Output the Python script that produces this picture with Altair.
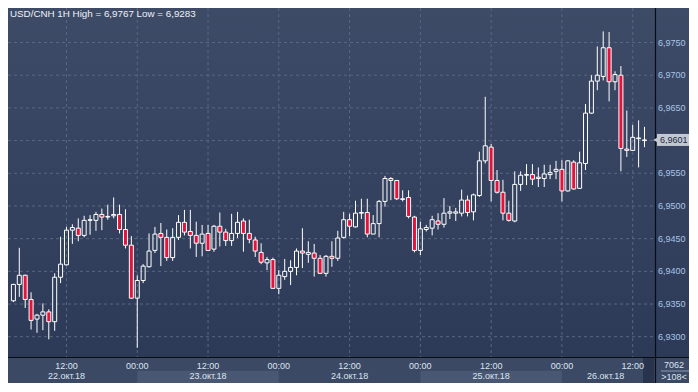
import altair as alt
import pandas as pd
import numpy as np

# ---------------- data ----------------
opens = [6.9355, 6.9380, 6.9394, 6.9357, 6.9327, 6.9333, 6.9338, 6.9323, 6.9391, 6.9410,
         6.9463, 6.9466, 6.9455, 6.9478, 6.9478, 6.9487, 6.9484, 6.9485, 6.9487, 6.9464,
         6.9440, 6.9359, 6.9386, 6.9407, 6.9432, 6.9458, 6.9452, 6.9421, 6.9452, 6.9475,
         6.9461, 6.9455, 6.9443, 6.9458, 6.9434, 6.9469, 6.9460, 6.9447, 6.9458, 6.9477,
         6.9458, 6.9448, 6.9429, 6.9413, 6.9418, 6.9374, 6.9392, 6.9400, 6.9406, 6.9431,
         6.9426, 6.9428, 6.9420, 6.9397, 6.9423, 6.9420, 6.9452, 6.9479, 6.9468, 6.9489,
         6.9490, 6.9457, 6.9473, 6.9507, 6.9542, 6.9539, 6.9511, 6.9513, 6.9483, 6.9432,
         6.9464, 6.9466, 6.9477, 6.9472, 6.9489, 6.9489, 6.9489, 6.9509, 6.9491, 6.9516,
         6.9569, 6.9590, 6.9539, 6.9521, 6.9489, 6.9477, 6.9533, 6.9547, 6.9548, 6.9542,
         6.9542, 6.9548, 6.9553, 6.9556, 6.9523, 6.9567, 6.9527, 6.9565, 6.9642, 6.9691,
         6.9698, 6.9742, 6.9690, 6.9700, 6.9587, 6.9585, 6.9603, 6.9600]
highs = [6.9381, 6.9436, 6.9395, 6.9368, 6.9335, 6.9351, 6.9342, 6.9397, 6.9453, 6.9468,
         6.9472, 6.9481, 6.9485, 6.9486, 6.9491, 6.9496, 6.9502, 6.9513, 6.9502, 6.9495,
         6.9454, 6.9394, 6.9411, 6.9458, 6.9468, 6.9474, 6.9464, 6.9466, 6.9486, 6.9494,
         6.9494, 6.9476, 6.9471, 6.9471, 6.9471, 6.9490, 6.9465, 6.9488, 6.9491, 6.9481,
         6.9479, 6.9453, 6.9443, 6.9422, 6.9421, 6.9402, 6.9419, 6.9417, 6.9435, 6.9466,
         6.9446, 6.9442, 6.9425, 6.9425, 6.9446, 6.9462, 6.9491, 6.9488, 6.9508, 6.9511,
         6.9511, 6.9486, 6.9509, 6.9546, 6.9544, 6.9539, 6.9524, 6.9524, 6.9485, 6.9476,
         6.9471, 6.9485, 6.9489, 6.9512, 6.9500, 6.9497, 6.9525, 6.9516, 6.9519, 6.9583,
         6.9667, 6.9595, 6.9555, 6.9540, 6.9508, 6.9553, 6.9553, 6.9564, 6.9564, 6.9559,
         6.9563, 6.9563, 6.9569, 6.9570, 6.9570, 6.9570, 6.9583, 6.9656, 6.9700, 6.9744,
         6.9767, 6.9766, 6.9706, 6.9714, 6.9646, 6.9624, 6.9631, 6.9621]
lows = [6.9353, 6.9361, 6.9344, 6.9311, 6.9306, 6.9310, 6.9296, 6.9309, 6.9382, 6.9409,
        6.9442, 6.9446, 6.9452, 6.9456, 6.9462, 6.9463, 6.9479, 6.9481, 6.9458, 6.9435,
        6.9358, 6.9283, 6.9382, 6.9406, 6.9428, 6.9408, 6.9416, 6.9416, 6.9448, 6.9455,
        6.9435, 6.9422, 6.9423, 6.9431, 6.9430, 6.9438, 6.9439, 6.9439, 6.9451, 6.9430,
        6.9443, 6.9422, 6.9411, 6.9402, 6.9374, 6.9365, 6.9387, 6.9379, 6.9394, 6.9405,
        6.9413, 6.9392, 6.9396, 6.9392, 6.9407, 6.9416, 6.9450, 6.9454, 6.9467, 6.9480,
        6.9452, 6.9457, 6.9452, 6.9499, 6.9509, 6.9509, 6.9507, 6.9481, 6.9429, 6.9425,
        6.9461, 6.9455, 6.9464, 6.9467, 6.9480, 6.9477, 6.9484, 6.9484, 6.9478, 6.9514,
        6.9565, 6.9507, 6.9519, 6.9478, 6.9476, 6.9475, 6.9523, 6.9532, 6.9532, 6.9529,
        6.9529, 6.9541, 6.9541, 6.9507, 6.9522, 6.9525, 6.9526, 6.9555, 6.9641, 6.9677,
        6.9692, 6.9660, 6.9677, 6.9553, 6.9575, 6.9584, 6.9559, 6.9590]
closes = [6.9380, 6.9394, 6.9357, 6.9325, 6.9333, 6.9338, 6.9323, 6.9391, 6.9411, 6.9463,
          6.9467, 6.9455, 6.9478, 6.9479, 6.9487, 6.9483, 6.9483, 6.9487, 6.9464, 6.9440,
          6.9359, 6.9386, 6.9408, 6.9431, 6.9457, 6.9452, 6.9421, 6.9452, 6.9475, 6.9460,
          6.9455, 6.9443, 6.9457, 6.9432, 6.9469, 6.9460, 6.9447, 6.9458, 6.9475, 6.9458,
          6.9449, 6.9431, 6.9414, 6.9418, 6.9374, 6.9394, 6.9400, 6.9406, 6.9431, 6.9428,
          6.9429, 6.9420, 6.9397, 6.9423, 6.9420, 6.9451, 6.9479, 6.9469, 6.9489, 6.9490,
          6.9457, 6.9473, 6.9507, 6.9542, 6.9539, 6.9511, 6.9510, 6.9484, 6.9432, 6.9465,
          6.9467, 6.9479, 6.9472, 6.9489, 6.9491, 6.9491, 6.9509, 6.9490, 6.9517, 6.9569,
          6.9592, 6.9539, 6.9521, 6.9489, 6.9478, 6.9533, 6.9547, 6.9548, 6.9541, 6.9544,
          6.9549, 6.9551, 6.9556, 6.9523, 6.9569, 6.9526, 6.9566, 6.9642, 6.9691, 6.9700,
          6.9742, 6.9690, 6.9701, 6.9588, 6.9585, 6.9605, 6.9604, 6.9601]

epoch = "2018-10-22 00:00"
first_bar = "2018-10-22 03:00"
x_domain = ["2018-10-22 02:56", "2018-10-26 14:56"]
y_domain = [6.92690, 6.98028]

grid_times = ["2018-10-22 12:00", "2018-10-23 00:00", "2018-10-23 12:00",
              "2018-10-24 00:00", "2018-10-24 12:00", "2018-10-25 00:00",
              "2018-10-25 12:00", "2018-10-26 00:00", "2018-10-26 12:00"]
grid_labels = ["12:00", "00:00", "12:00", "00:00", "12:00", "00:00", "12:00", "00:00", "12:00"]

date_pos = ["2018-10-22 12:00", "2018-10-23 12:00", "2018-10-24 12:00",
            "2018-10-25 12:00", "2018-10-26 07:25"]
date_labels = ["22.окт.18", "23.окт.18", "24.окт.18", "25.окт.18", "26.окт.18"]
band_start = ["2018-10-23 00:00", "2018-10-25 00:00"]
band_end = ["2018-10-24 00:00", "2018-10-26 00:00"]

price_ticks = [6.9300, 6.9350, 6.9400, 6.9450, 6.9500, 6.9550, 6.9600, 6.9650, 6.9700, 6.9750]
# the 6,9600 label is hidden behind the last-price tag in the reference
label_ticks = [6.9300, 6.9350, 6.9400, 6.9450, 6.9500, 6.9550, 6.9650, 6.9700, 6.9750]
label_texts = [f"{v:.4f}".replace(".", ",") for v in label_ticks]

title_text = "USD/CNH 1H High = 6,9767 Low = 6,9283"
box_top_text = "7062"
box_bottom_text = ">108<"

# ---------------- styling ----------------
FONT = "Liberation Sans"
GRID = "#586783"
PANEL = "#3b4965"
BAND = "#4a5773"
RED = "#e6123c"
LINE = "#080c14"
W, H = 647, 349
PAD_R, PAD_B = 34, 26

t0 = pd.Timestamp(epoch)


def hrs(values):
    return [(pd.Timestamp(v) - t0).total_seconds() / 3600.0 for v in values]


times = pd.date_range(first_bar, periods=len(opens), freq="h")
df = pd.DataFrame({"t": hrs(times), "open": opens, "high": highs, "low": lows, "close": closes})
df["top"] = np.maximum(df["open"], df["close"])
df["bot"] = np.minimum(df["open"], df["close"])
df["dir"] = np.where(df["close"] < df["open"], "down", "up")

xs = alt.Scale(domain=hrs(x_domain), nice=False, zero=False)
ys = alt.Scale(domain=y_domain, zero=False, nice=False)


def X(field="t:Q"):
    return alt.X(field, scale=xs, axis=None, title=None)


def Y(field):
    return alt.Y(field, scale=ys, axis=None, title=None)


one = alt.Data(values=[{"a": 1}])
grad = alt.LinearGradient(gradient="linear", x1=0, x2=0, y1=0, y2=1,
                          stops=[alt.GradientStop(color="#3e4b67", offset=0),
                                 alt.GradientStop(color="#2c3a58", offset=1)])

# backgrounds
plot_bg = alt.Chart(one).mark_rect(color=grad).encode(
    x=alt.value(0), x2=alt.value(W + PAD_R), y=alt.value(0), y2=alt.value(H))
bottom_panel = alt.Chart(one).mark_rect(color=PANEL).encode(
    x=alt.value(0), x2=alt.value(W + PAD_R), y=alt.value(H), y2=alt.value(H + PAD_B))
bands_df = pd.DataFrame({"t": hrs(band_start), "t2": hrs(band_end)})
bands = alt.Chart(bands_df).mark_rect(color=BAND).encode(
    x=X(), x2="t2:Q", y=alt.value(H + 13.7), y2=alt.value(H + PAD_B))
scroll_box = alt.Chart(one).mark_rect(color="#28344e").encode(
    x=alt.value(W - 12), x2=alt.value(W - 1), y=alt.value(H + 1), y2=alt.value(H + PAD_B))

# grid
vgrid = alt.Chart(pd.DataFrame({"t": hrs(grid_times)})).mark_rule(
    color=GRID, strokeDash=[3, 3], strokeWidth=1).encode(
    x=X(), y=alt.value(0), y2=alt.value(H))
hgrid = alt.Chart(pd.DataFrame({"p": price_ticks})).mark_rule(
    color=GRID, strokeDash=[3, 3], strokeWidth=1).encode(
    y=Y("p:Q"), x=alt.value(0), x2=alt.value(W))

# candles
base = alt.Chart(df)
wick_hi = base.mark_rule(color="white", strokeWidth=1, clip=True).encode(
    x=X(), y=Y("high:Q"), y2="top:Q")
wick_lo = base.mark_rule(color="white", strokeWidth=1, clip=True).encode(
    x=X(), y=Y("bot:Q"), y2="low:Q")
body = base.mark_bar(size=4, stroke="white", strokeWidth=1, clip=True).encode(
    x=X(), y=Y("open:Q"), y2="close:Q",
    fill=alt.Fill("dir:N", scale=alt.Scale(domain=["up", "down"],
                                           range=["rgba(0,0,0,0)", RED]), legend=None))

# axis texts
tick_df = pd.DataFrame({"t": hrs(grid_times), "lab": grid_labels})
time_text = alt.Chart(tick_df).mark_text(font=FONT, fontSize=9, color="#dde4ee",
                                         baseline="middle", align="center").encode(
    x=X(), y=alt.value(H + 8.5), text="lab:N")
date_df = pd.DataFrame({"t": hrs(date_pos), "lab": date_labels})
date_text = alt.Chart(date_df).mark_text(font=FONT, fontSize=9, color="#dde4ee",
                                         baseline="middle", align="center").encode(
    x=X(), y=alt.value(H + 19), text="lab:N")
price_df = pd.DataFrame({"p": label_ticks, "lab": label_texts})
price_text = alt.Chart(price_df).mark_text(font=FONT, fontSize=9, color="#a9c5e5",
                                           baseline="middle", align="left").encode(
    x=alt.value(W + 3), y=Y("p:Q"), text="lab:N")

# frame lines
vline = alt.Chart(one).mark_rule(color=LINE, strokeWidth=1.2).encode(
    x=alt.value(W + 0.5), y=alt.value(0), y2=alt.value(H + PAD_B))
hline = alt.Chart(one).mark_rule(color=LINE, strokeWidth=1.2).encode(
    y=alt.value(H + 0.5), x=alt.value(0), x2=alt.value(W + PAD_R))
box_sep = alt.Chart(one).mark_rule(color="#8d9bb0", strokeWidth=1).encode(
    y=alt.value(H + 14), x=alt.value(W + 6), x2=alt.value(W + PAD_R))
box_text = alt.Chart(pd.DataFrame({"lab": [box_top_text]})).mark_text(
    font=FONT, fontSize=9, color="#dde4ee", baseline="middle", align="center").encode(
    x=alt.value(W + 19), y=alt.value(H + 7.5), text="lab:N")
box_text2 = alt.Chart(pd.DataFrame({"lab": [box_bottom_text]})).mark_text(
    font=FONT, fontSize=9, color="#dde4ee", baseline="middle", align="center").encode(
    x=alt.value(W + 19), y=alt.value(H + 19.5), text="lab:N")

# last price tag
last_df = pd.DataFrame({"p": [closes[-1]], "lab": [f"{closes[-1]:.4f}".replace(".", ",")]})
tag_rect = alt.Chart(last_df).mark_rect(color="#c3c9d1", yOffset=-6, y2Offset=6).encode(
    x=alt.value(W + 2), x2=alt.value(W + PAD_R), y=Y("p:Q"), y2="p:Q")
tag_arrow = alt.Chart(last_df).mark_point(shape="triangle-left", filled=True, size=28,
                                          color="#c3c9d1", opacity=1).encode(
    x=alt.value(W + 0.5), y=Y("p:Q"))
tag_text = alt.Chart(last_df).mark_text(font=FONT, fontSize=9, color="#1b2a44",
                                        baseline="middle", align="left").encode(
    x=alt.value(W + 5), y=Y("p:Q"), text="lab:N")

title = alt.Chart(pd.DataFrame({"lab": [title_text]})).mark_text(
    font=FONT, fontSize=9.8, color="#eef2f8", baseline="middle", align="left").encode(
    x=alt.value(2), y=alt.value(6), text="lab:N")

chart = alt.layer(
    plot_bg, bottom_panel, bands, scroll_box, vgrid, hgrid,
    wick_hi, wick_lo, body,
    time_text, date_text, price_text,
    vline, hline, box_sep, box_text, box_text2,
    tag_rect, tag_arrow, tag_text, title
).properties(
    width=W, height=H,
    autosize=alt.AutoSizeParams(type="none"),
    padding={"left": 0, "top": 0, "right": PAD_R, "bottom": PAD_B},
    background="#34425e"
).configure_view(strokeWidth=0)

chart.save("out.html", embed_options={"renderer": "svg", "actions": False})
